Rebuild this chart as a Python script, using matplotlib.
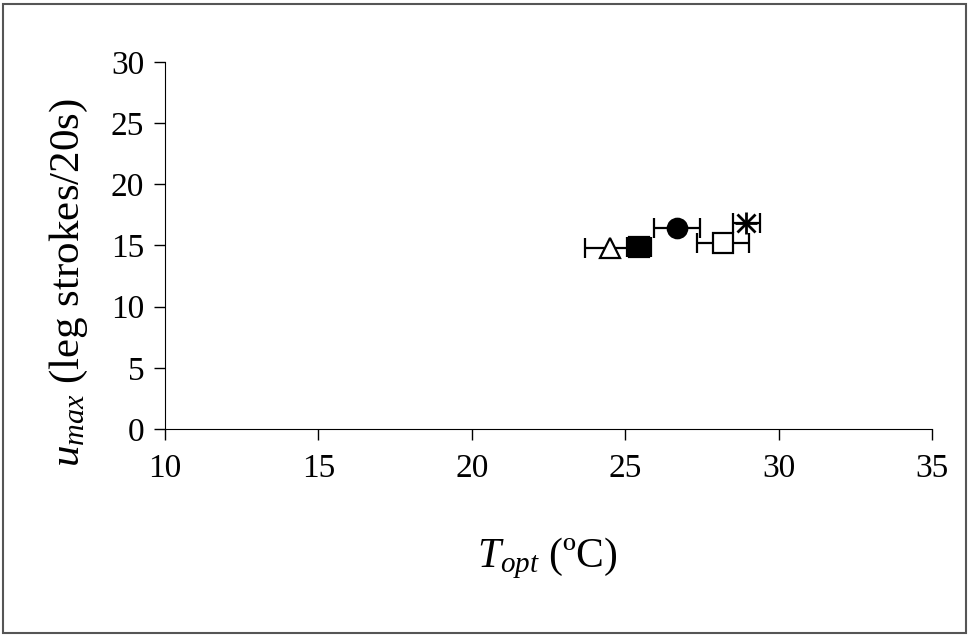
import matplotlib.pyplot as plt
from matplotlib.patches import Rectangle

plt.rcParams['font.family'] = ['Liberation Serif', 'DejaVu Serif']
plt.rcParams['mathtext.fontset'] = 'custom'
plt.rcParams['mathtext.rm'] = 'Liberation Serif'
plt.rcParams['mathtext.it'] = 'Liberation Serif:italic'

# optimum temperature and max stroke rate per group
t_opt = [24.5, 25.45, 26.7, 28.2, 28.95]
t_err = [0.8, 0.4, 0.75, 0.85, 0.45]
u_max = [14.8, 14.9, 16.4, 15.2, 16.8]
markers = ['^', 's', 'o', 's', '*']
faces = ['white', 'black', 'black', 'white', 'black']

fig = plt.figure(figsize=(9.68, 6.36), dpi=100)
ax = fig.add_axes([0.1705, 0.3255, 0.7923, 0.577])

for x, xe, y, m, fc in zip(t_opt, t_err, u_max, markers, faces):
    if m == '*':
        ax.errorbar(x, y, xerr=xe, fmt='none', ecolor='black', elinewidth=1.6,
                    capsize=7, capthick=1.6, zorder=2)
        ax.plot(x, y, marker='x', ms=13, mew=2, color='black', zorder=3)
        ax.plot(x, y, marker='+', ms=16, mew=2, color='black', zorder=3)
    else:
        ax.errorbar(x, y, xerr=xe, fmt=m, ms=14, mfc=fc, mec='black', mew=1.6,
                    ecolor='black', elinewidth=1.6, capsize=7, capthick=1.6, zorder=2)

ax.set_xlim(10, 35)
ax.set_ylim(0, 30)
ax.set_xticks([10, 15, 20, 25, 30, 35])
ax.set_yticks(range(0, 31, 5))
ax.spines['top'].set_visible(False)
ax.spines['right'].set_visible(False)
ax.tick_params(direction='out', length=8, width=1, labelsize=24, pad=10)
ax.tick_params(axis='y', pad=7)

ax.set_xlabel(r'$T_{opt}$ (ºC)', fontsize=30)
ax.set_ylabel(r'$u_{max}$ (leg strokes/20s)', fontsize=31)
ax.xaxis.set_label_coords(0.498, -0.29)
ax.yaxis.set_label_coords(-0.098, 0.40)

fig.patches.append(Rectangle((0.003, 0.005), 0.995, 0.988, transform=fig.transFigure,
                             fill=False, edgecolor='#555555', linewidth=1.5))

fig.savefig('out.png', dpi=100)
